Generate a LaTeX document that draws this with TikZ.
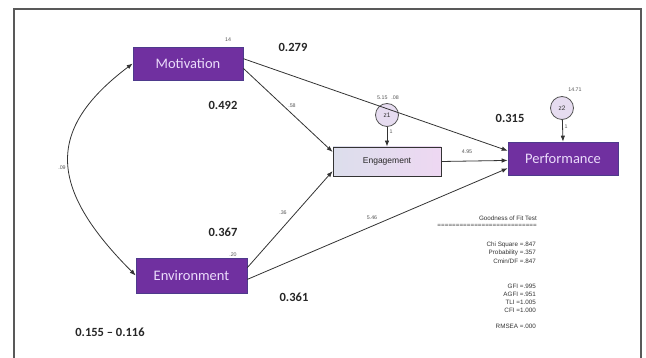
\documentclass[tikz,border=0pt]{standalone}
\usepackage{fontspec}
\setmainfont{Liberation Sans}
\newfontfamily\carl{Carlito}
\usetikzlibrary{arrows.meta}
\definecolor{purp}{HTML}{7030A0}
\definecolor{purpedge}{HTML}{4E3A8C}
\definecolor{purptext}{HTML}{EBDCFB}
\definecolor{zfill}{HTML}{E6DCF0}
\definecolor{lineg}{HTML}{333333}
\definecolor{smallg}{HTML}{555555}
\definecolor{engl}{HTML}{DCDEEC}
\definecolor{engr}{HTML}{EED8F2}
\begin{document}
\begin{tikzpicture}[x=1pt,y=-1pt,
  latent/.style={draw=purpedge, line width=0.6pt, fill=purp, text=purptext, minimum width=110pt, minimum height=33pt, inner sep=0pt, font=\carl\fontsize{14.5}{16}\selectfont},
  engbox/.style={draw=lineg, line width=0.8pt, left color=engl, right color=engr, minimum width=108pt, minimum height=29pt, inner sep=0pt, font=\fontsize{8.5}{10}\selectfont, text=black!85},
  zc/.style={circle, draw=smallg, line width=0.8pt, fill=zfill, minimum size=23pt, inner sep=0pt, font=\fontsize{6.5}{8}\selectfont, text=black!80},
  path/.style={draw=lineg, line width=0.8pt, -{Latex[length=6pt,width=4.5pt]}},
  big/.style={font=\carl\bfseries\fontsize{12.5}{14}\selectfont, text=black!85, inner sep=0pt},
  tiny/.style={font=\fontsize{5.3}{6}\selectfont, text=smallg, inner sep=0pt},
  gof/.style={font=\fontsize{6.3}{7}\selectfont, text=black!80, inner sep=0pt, anchor=east},
  frame/.style={draw=black!65, line width=1.5pt}
]
\useasboundingbox (0,0) rectangle (646,358);
\draw[frame] (14,365) -- (14,9) -- (641,9) -- (641,365);

% nodes
\node[latent] (mot) at (188,63.5) {Motivation};
\node[latent, minimum width=111pt, minimum height=35pt] (env) at (191.5,275.5) {Environment};
\node[engbox] (eng) at (387,161.5) {Engagement};
\node[latent] (perf) at (563,158.5) {Performance};
\node[zc] (z1) at (387,115) {z1};
\node[zc] (z2) at (562,108) {z2};

% connectors
\draw[path] (mot.5) -- (perf.172);
\draw[path] (mot.-5) -- (eng.170);
\draw[path] (env.8) -- (eng.190);
\draw[path] (env.-4) -- (perf.190);
\draw[path] (eng.east) -- (perf.182);
\draw[path] (z1) -- (eng.north);
\draw[path] (z2) -- (perf.north);
\draw[draw=lineg, line width=0.8pt, {Latex[length=6pt,width=4.5pt]}-{Latex[length=6pt,width=4.5pt]}]
  (mot.west) .. controls +(-86,65) and +(-89,-89) .. (env.west);

% small labels
\node[tiny] (l14) at (228,40) {14};
\node[tiny] (l58) at (292,106) {.58};
\node[tiny] (l515) at (388,98) {5.15\hspace{4pt}.08};
\node[tiny] (lz1) at (391,132) {1};
\node[tiny] (l495) at (467,152) {4.95};
\node[tiny] (l1471) at (575,90) {14.71};
\node[tiny] (lz2) at (566,127) {1};
\node[tiny] (l09) at (62,168) {.09};
\node[tiny] (l20) at (233,255) {.20};
\node[tiny] (l36) at (283,213) {.36};
\node[tiny] (l546) at (372,218) {5.46};

% bold labels
\node[big] (b279) at (293,47) {0.279};
\node[big] (b492) at (223,105) {0.492};
\node[big] (b315) at (510,118) {0.315};
\node[big] (b367) at (223,232) {0.367};
\node[big] (b361) at (294,297) {0.361};
\node[big] (b155) at (110,332) {0.155 – 0.116};

% goodness of fit
\node[gof] (g1) at (537,218) {Goodness of Fit Test};
\node[gof] (g2) at (537,225.5) {===========================};
\node[gof] (g3) at (536,245) {Chi Square =.847};
\node[gof] (g4) at (536,253) {Probability =.357};
\node[gof] (g5) at (536,261.5) {Cmin/DF =.847};
\node[gof] (g6) at (536,286) {GFI =.995};
\node[gof] (g7) at (536,294) {AGFI =.951};
\node[gof] (g8) at (536,302) {TLI =1.005};
\node[gof] (g9) at (536,310) {CFI =1.000};
\node[gof] (g10) at (536,326) {RMSEA =.000};
\end{tikzpicture}
\end{document}
